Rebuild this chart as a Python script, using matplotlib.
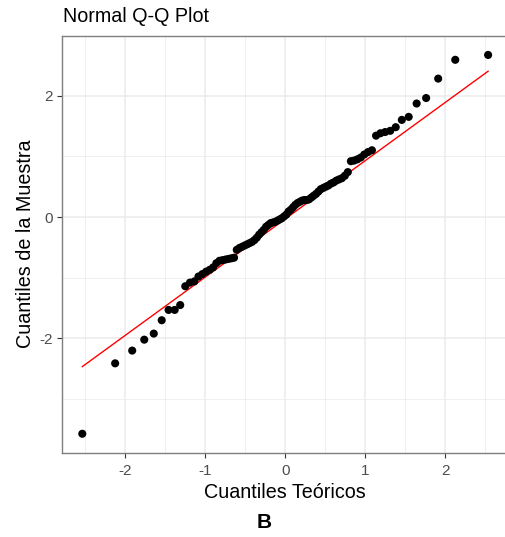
from statistics import NormalDist

import numpy as np
import matplotlib
matplotlib.use("Agg")
import matplotlib.pyplot as plt

plt.rcParams["font.family"] = ["Liberation Sans", "DejaVu Sans"]

# sorted sample values (n = 90)
sample = [
    -3.57, -2.41, -2.20, -2.02, -1.92, -1.70, -1.53, -1.53, -1.45, -1.14,
    -1.08, -1.06, -0.98, -0.94, -0.90, -0.87, -0.83, -0.76, -0.72, -0.71,
    -0.70, -0.69, -0.68, -0.67, -0.54, -0.51, -0.49, -0.47, -0.45, -0.43,
    -0.41, -0.38, -0.34, -0.29, -0.25, -0.21, -0.16, -0.13, -0.10, -0.09,
    -0.08, -0.06, -0.04, -0.02, 0.01, 0.04, 0.09, 0.12, 0.16, 0.20,
    0.23, 0.25, 0.27, 0.28, 0.28, 0.29, 0.32, 0.35, 0.38, 0.42,
    0.46, 0.48, 0.50, 0.52, 0.55, 0.57, 0.60, 0.62, 0.64, 0.68,
    0.74, 0.92, 0.93, 0.95, 0.98, 1.03, 1.07, 1.10, 1.34, 1.38,
    1.40, 1.42, 1.48, 1.60, 1.65, 1.87, 1.96, 2.28, 2.59, 2.67,
]

title = "Normal Q-Q Plot"
x_label = "Cuantiles Teóricos"
y_label = "Cuantiles de la Muestra"
panel_tag = "B"
x_ticks = [-2, -1, 0, 1, 2]
y_ticks = [-2, 0, 2]

y = np.sort(np.array(sample))
n = len(y)
nd = NormalDist()
# R-style ppoints for n > 10
x = np.array([nd.inv_cdf((i - 0.5) / n) for i in range(1, n + 1)])

# qqline through the quartiles
q1, q3 = np.quantile(y, [0.25, 0.75])
t1, t3 = nd.inv_cdf(0.25), nd.inv_cdf(0.75)
slope = (q3 - q1) / (t3 - t1)
intercept = q1 - slope * t1

W, H = 506, 537
fig = plt.figure(figsize=(W / 100, H / 100), dpi=100)
# the ggplot panel runs a little past the right edge of the image,
# so stop the axes short of the edge and cut the x range to match
left, right_full, top, bottom = 62, 508.4, 36, 452.7
right = W - 1
ax = fig.add_axes([left / W, 1 - bottom / H, (right - left) / W, (bottom - top) / H])

xr = x.max() - x.min()
yr = y.max() - y.min()
x0, x1 = x.min() - 0.05 * xr, x.max() + 0.05 * xr
x1 = x0 + (x1 - x0) * (right - left) / (right_full - left)
ax.set_xlim(x0, x1)
ax.set_ylim(y.min() - 0.05 * yr, y.max() + 0.05 * yr)

ax.set_xticks(x_ticks)
ax.set_yticks(y_ticks)
ax.set_xticks([-2.5, -1.5, -0.5, 0.5, 1.5, 2.5], minor=True)
ax.set_yticks([-3, -1, 1], minor=True)
ax.grid(True, which="major", color="#EBEBEB", lw=1.1)
ax.grid(True, which="minor", color="#EDEDED", lw=0.6)
ax.set_axisbelow(True)
ax.tick_params(which="minor", length=0)
ax.tick_params(which="major", length=3.3, width=0.8, color="#333333",
               labelsize=11, labelcolor="#4D4D4D", pad=3)
ax.tick_params(axis="x", pad=4.5)
ax.tick_params(right=False, top=False)
for s in ax.spines.values():
    s.set_color("#7F7F7F")
    s.set_linewidth(1.0)
ax.spines["right"].set_visible(False)

ax.set_xticklabels([str(v) for v in x_ticks])
ax.set_yticklabels([str(v) for v in y_ticks])

xl = np.array([x.min(), x.max()])
ax.plot(xl, intercept + slope * xl, color="red", lw=1.0, zorder=2)
ax.scatter(x, y, s=34, color="black", edgecolors="none", zorder=3)

fig.text(63 / W, 1 - 22 / H, title, fontsize=14.2, ha="left", va="baseline")
fig.text(285 / W, 1 - 498 / H, x_label, fontsize=14.2, ha="center", va="baseline")
fig.text(25.5 / W, 1 - 244 / H, y_label, fontsize=14.2, ha="center", va="center",
         rotation=90)
fig.text(264.5 / W, 1 - 528 / H, panel_tag, fontsize=15, fontweight="bold",
         ha="center", va="baseline")

fig.savefig("out.png", dpi=100, facecolor="white")
